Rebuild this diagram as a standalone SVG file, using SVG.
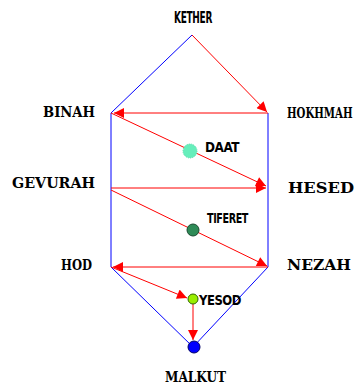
<svg xmlns="http://www.w3.org/2000/svg" width="358" height="385" viewBox="0 0 358 385">
  <style>
    .frame { stroke: #0000ff; stroke-width: 1; fill: none; }
    .path { stroke: #ff0000; stroke-width: 1; fill: none; marker-end: url(#arrow); }
    .slab { font-family: "DejaVu Serif Condensed", "DejaVu Serif", "Liberation Serif", serif; font-weight: bold; fill: #000; }
    .narrow { font-family: "DejaVu Sans Condensed", "DejaVu Sans", sans-serif; font-weight: bold; fill: #000; letter-spacing: -0.5px; }
  </style>
  <defs>
    <marker id="arrow" viewBox="0 0 10 10" refX="10" refY="5" markerWidth="12" markerHeight="10" markerUnits="userSpaceOnUse" orient="auto">
      <path d="M0,0 L10,5 L0,10 z" fill="#ff0000"/>
    </marker>
  </defs>
  <rect width="358" height="385" fill="#ffffff"/>

  <g id="connectors">
    <!-- tree frame -->
    <path class="frame" d="M192,35 L111,113 L111,267 L193,347 L268,267 L268,113"/>
    <!-- paths of descent -->
    <line class="path" x1="192" y1="35" x2="267" y2="112"/>
    <line class="path" x1="268" y1="113" x2="114" y2="113"/>
    <line class="path" x1="111" y1="113" x2="266" y2="186"/>
    <line class="path" x1="111" y1="188" x2="266" y2="188"/>
    <line class="path" x1="111" y1="190" x2="267" y2="266"/>
    <line class="path" x1="268" y1="267" x2="113" y2="267"/>
    <line class="path" x1="111" y1="267" x2="187" y2="298"/>
    <line class="path" x1="193" y1="304" x2="193" y2="340"/>
  </g>

  <g id="kether"><text class="narrow" x="174" y="23" font-size="16" textLength="38" lengthAdjust="spacingAndGlyphs">KETHER</text></g>
  <g id="binah"><text class="slab" x="43" y="117" font-size="14" textLength="52" lengthAdjust="spacingAndGlyphs">BINAH</text></g>
  <g id="hokhmah"><text class="slab" transform="translate(287,118) scale(0.8,1)" font-size="14" textLength="82" lengthAdjust="spacingAndGlyphs">HOKHMAH</text></g>
  <g id="daat">
    <circle cx="190" cy="151" r="7" fill="#66eebb" stroke="#55ddaa" stroke-width="1" stroke-dasharray="1 1"/>
    <text class="narrow" x="205" y="152" font-size="14" textLength="34" lengthAdjust="spacingAndGlyphs">DAAT</text>
  </g>
  <g id="gevurah"><text class="slab" x="12" y="188" font-size="15" textLength="83" lengthAdjust="spacingAndGlyphs">GEVURAH</text></g>
  <g id="hesed"><text class="slab" x="288" y="193" font-size="15" textLength="66" lengthAdjust="spacingAndGlyphs">HESED</text></g>
  <g id="tiferet">
    <circle cx="193" cy="230" r="6" fill="#2e8b57" stroke="#1a4a30" stroke-width="1"/>
    <text class="narrow" x="207" y="223" font-size="14" textLength="41" lengthAdjust="spacingAndGlyphs">TIFERET</text>
  </g>
  <g id="hod"><text class="slab" x="61" y="270" font-size="14" textLength="31" lengthAdjust="spacingAndGlyphs">HOD</text></g>
  <g id="nezah"><text class="slab" x="287" y="270" font-size="15" textLength="64" lengthAdjust="spacingAndGlyphs">NEZAH</text></g>
  <g id="yesod">
    <circle cx="193" cy="299" r="5" fill="#99ee00" stroke="#336600" stroke-width="1"/>
    <text class="narrow" x="199" y="305" font-size="14" textLength="42" lengthAdjust="spacingAndGlyphs">YESOD</text>
  </g>
  <g id="malkut">
    <circle cx="194" cy="347" r="6" fill="#0000ff" stroke="#000066" stroke-width="1"/>
    <text class="slab" x="165" y="382" font-size="14" textLength="61" lengthAdjust="spacingAndGlyphs">MALKUT</text>
  </g>
</svg>
